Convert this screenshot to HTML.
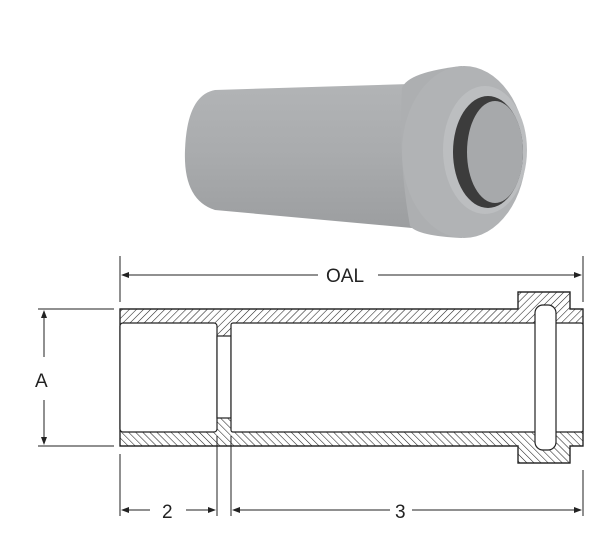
<!DOCTYPE html>
<html><head><style>
html,body{margin:0;padding:0;background:#fff;}
svg{display:block;}
text{font-family:"Liberation Sans",sans-serif;}
</style></head><body>
<svg width="609" height="541" viewBox="0 0 609 541" xmlns="http://www.w3.org/2000/svg">
<defs>
<pattern id="ha" width="5" height="5" patternUnits="userSpaceOnUse" patternTransform="rotate(45)">
<rect width="5" height="5" fill="#fff"/><line x1="0" y1="0" x2="0" y2="5" stroke="#222" stroke-width="1.1"/></pattern>
<pattern id="hb" width="5" height="5" patternUnits="userSpaceOnUse" patternTransform="rotate(-45)">
<rect width="5" height="5" fill="#fff"/><line x1="0" y1="0" x2="0" y2="5" stroke="#222" stroke-width="1.1"/></pattern>
<clipPath id="top"><rect x="0" y="0" width="609" height="377"/></clipPath>
<clipPath id="bot"><rect x="0" y="377" width="609" height="200"/></clipPath>
<linearGradient id="body" x1="0" y1="0" x2="0" y2="1">
<stop offset="0" stop-color="#b2b4b6"/><stop offset="0.5" stop-color="#a9abad"/><stop offset="1" stop-color="#9c9ea0"/></linearGradient>
</defs>

<!-- photo -->
<path d="M215,90 L410,84 L412,228 L215,210 Q183,200 185,150 Q187,95 215,90 Z" fill="url(#body)"/>
<path d="M402,88 Q408,72 462,66 L462,238 Q418,236 410,226 Q398,160 402,88 Z" fill="#adafb1"/>
<ellipse cx="464" cy="152" rx="62" ry="86" fill="#b1b3b5"/>
<ellipse cx="485" cy="150" rx="42" ry="64" fill="#bcbec0"/>
<ellipse cx="488" cy="152" rx="35" ry="56" fill="#3c3c3c"/>
<ellipse cx="495" cy="152" rx="28" ry="51" fill="#a7a9ab"/>

<!-- section -->
<g stroke="#222" stroke-width="1.2">
<path d="M120,309 L518,309 L518,292 L570,292 L570,309 L583,309 L583,446 L570,446 L570,463 L518,463 L518,446 L120,446 Z" fill="url(#ha)" clip-path="url(#top)"/>
<path d="M120,309 L518,309 L518,292 L570,292 L570,309 L583,309 L583,446 L570,446 L570,463 L518,463 L518,446 L120,446 Z" fill="url(#hb)" clip-path="url(#bot)"/>
<path d="M120,309 L518,309 L518,292 L570,292 L570,309 L583,309 L583,446 L570,446 L570,463 L518,463 L518,446 L120,446 Z" fill="none"/>
<rect x="120" y="323" width="97" height="109" rx="3" fill="#fff"/>
<rect x="217" y="336" width="14" height="82" fill="#fff"/>
<rect x="231" y="323" width="352" height="109" rx="2" fill="#fff"/>
<rect x="535" y="305" width="21" height="145" rx="8" fill="#fff"/>
</g>

<!-- dimension lines -->
<g stroke="#222" stroke-width="1">
<line x1="120" y1="256" x2="120" y2="302"/>
<line x1="583" y1="256" x2="583" y2="302"/>
<line x1="124" y1="275" x2="318" y2="275"/>
<line x1="378" y1="275" x2="579" y2="275"/>
<line x1="38" y1="309" x2="114" y2="309"/>
<line x1="38" y1="446" x2="114" y2="446"/>
<line x1="44" y1="314" x2="44" y2="357"/>
<line x1="44" y1="400" x2="44" y2="441"/>
<line x1="120" y1="454" x2="120" y2="516"/>
<line x1="217" y1="436" x2="217" y2="516"/>
<line x1="231" y1="436" x2="231" y2="516"/>
<line x1="583" y1="470" x2="583" y2="516"/>
<line x1="124" y1="510" x2="150" y2="510"/>
<line x1="186" y1="510" x2="213" y2="510"/>
<line x1="235" y1="510" x2="390" y2="510"/>
<line x1="412" y1="510" x2="579" y2="510"/>
</g>
<g fill="#222">
<path d="M121,275 l8,-3 v6 z"/><path d="M582,275 l-8,-3 v6 z"/>
<path d="M44,310 l-3,8 h6 z"/><path d="M44,445 l-3,-8 h6 z"/>
<path d="M121,510 l8,-3 v6 z"/><path d="M216,510 l-8,-3 v6 z"/>
<path d="M232,510 l8,-3 v6 z"/><path d="M582,510 l-8,-3 v6 z"/>
</g>
<g fill="#222" font-size="19">
<text x="326" y="282">OAL</text>
<text x="35" y="387">A</text>
<text x="162" y="518">2</text>
<text x="395" y="518">3</text>
</g>
</svg>
</body></html>
